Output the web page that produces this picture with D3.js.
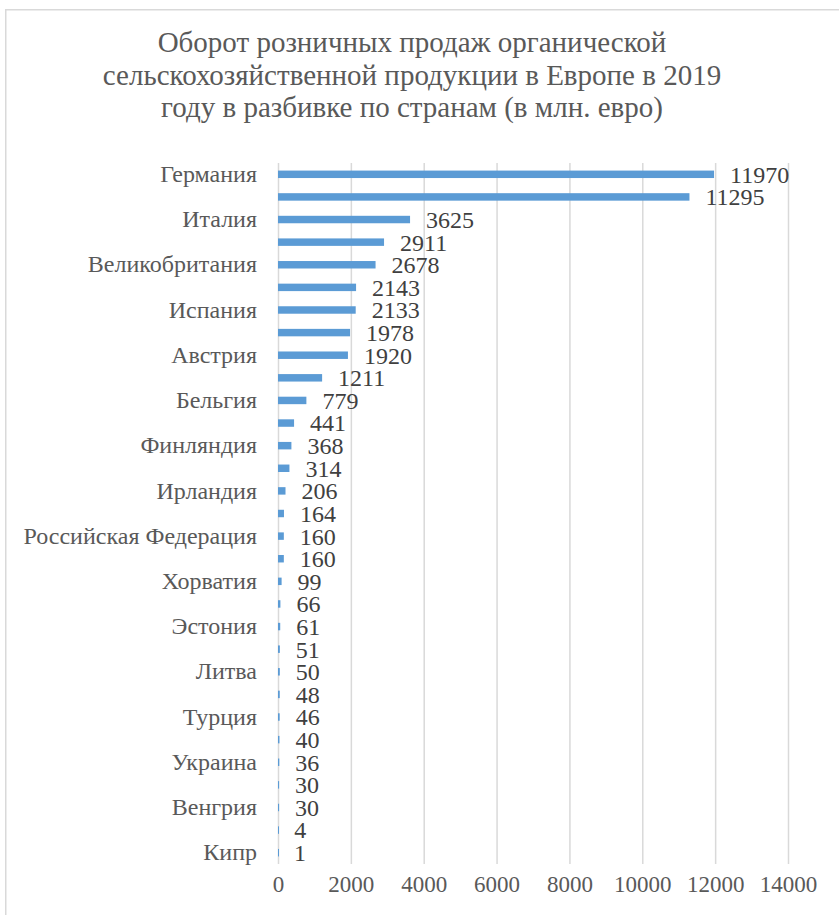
<!DOCTYPE html>
<html>
<head>
<meta charset="utf-8">
<script src="https://cdn.jsdelivr.net/npm/d3@7"></script>
<style>
  body { margin: 0; background: #fff; }
  svg { display: block; }
  svg text { font-family: "Liberation Serif", "Times New Roman", serif; }
</style>
</head>
<body>
<svg></svg>
<script>
let countries = [
    "Германия", "Франция", "Италия", "Швейцария", "Великобритания", "Швеция",
    "Испания", "Нидерланды", "Австрия", "Дания", "Бельгия", "Норвегия",
    "Финляндия", "Польша", "Ирландия", "Люксембург", "Российская Федерация", "Чехия",
    "Хорватия", "Словения", "Эстония", "Греция", "Литва", "Румыния",
    "Турция", "Латвия", "Украина", "Словакия", "Венгрия", "Сербия", "Кипр"
];
let sales = [
    11970, 11295, 3625, 2911, 2678, 2143,
    2133, 1978, 1920, 1211, 779, 441,
    368, 314, 206, 164, 160, 160,
    99, 66, 61, 51, 50, 48,
    46, 40, 36, 30, 30, 4, 1
];
// only every second category is labelled on the axis
let shownCountries = countries.filter((c, i) => i % 2 === 0);
let xTicks = [0, 2000, 4000, 6000, 8000, 10000, 12000, 14000];
let titleLines = [
    "Оборот розничных продаж органической",
    "сельскохозяйственной продукции в Европе в 2019",
    "году в разбивке по странам (в млн. евро)"
];

let w = 839;
let h = 915;
let plotLeft = 278;
let plotRight = 788;
let plotTop = 163;
let plotBottom = 864;

let svg = d3.select('svg')
    .attr('width', w)
    .attr('height', h);

let data = countries.map((c, i) => ({ country: c, value: sales[i] }));

let xScale = d3.scaleLinear()
    .domain([0, 14000])
    .range([plotLeft, plotRight]);

let yScale = d3.scaleBand()
    .domain(countries)
    .range([plotTop, plotBottom])
    .paddingInner(0.67)
    .paddingOuter(0.335);

// chart frame (runs off the right and bottom of the picture)
svg.append('rect')
    .attr('x', 5.75)
    .attr('y', 9.75)
    .attr('width', 1000)
    .attr('height', 1000)
    .attr('fill', 'none')
    .attr('stroke', '#d9d9d9')
    .attr('stroke-width', 1.5);

svg.append('text')
    .attr('text-anchor', 'middle')
    .style('font-size', '29px')
    .attr('fill', '#595959')
    .selectAll('tspan')
    .data(titleLines)
    .enter()
    .append('tspan')
    .attr('x', 412)
    .attr('y', (d, i) => 52 + i * 32.5)
    .text(d => d);

let xAxis = d3.axisBottom(xScale)
    .tickValues(xTicks)
    .tickSize(-(plotBottom - plotTop))
    .tickPadding(12)
    .tickFormat(d3.format('d'));

let gx = svg.append('g')
    .attr('id', 'x-axis')
    .attr('transform', 'translate(0, ' + plotBottom + ')')
    .call(xAxis);
gx.select('.domain').remove();
gx.selectAll('line')
    .attr('stroke', '#d9d9d9')
    .attr('stroke-width', 1.5);
gx.selectAll('text')
    .style('font-size', '23px')
    .attr('fill', '#595959');

let yAxis = d3.axisLeft(yScale)
    .tickValues(shownCountries)
    .tickSize(0)
    .tickPadding(21);

let gy = svg.append('g')
    .attr('id', 'y-axis')
    .attr('transform', 'translate(' + plotLeft + ', 0)')
    .call(yAxis);
gy.select('.domain').remove();
gy.selectAll('text')
    .style('font-size', '24px')
    .attr('fill', '#595959');

svg.selectAll('rect.bar')
    .data(data)
    .enter()
    .append('rect')
    .attr('class', 'bar')
    .attr('x', xScale(0))
    .attr('y', d => yScale(d.country))
    .attr('width', d => Math.max(xScale(d.value) - xScale(0), 1))
    .attr('height', yScale.bandwidth())
    .attr('fill', '#5b9bd5');

svg.selectAll('text.value')
    .data(data)
    .enter()
    .append('text')
    .attr('class', 'value')
    .attr('x', d => xScale(d.value) + 16)
    .attr('y', d => yScale(d.country) + yScale.bandwidth() / 2)
    .attr('dy', '0.35em')
    .style('font-size', '24px')
    .attr('fill', '#404040')
    .text(d => d.value);
</script>
</body>
</html>
